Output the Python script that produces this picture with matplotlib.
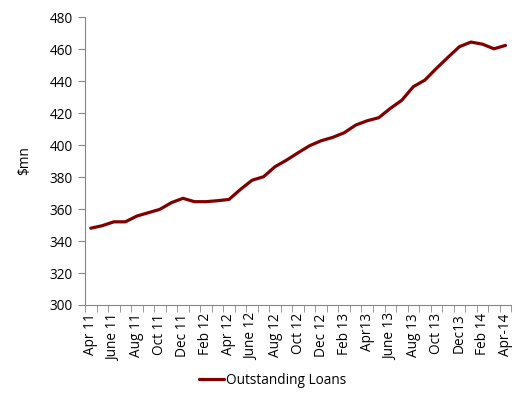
import numpy as np
import matplotlib.pyplot as plt

# monthly outstanding loans, Apr 2011 - Apr 2014
loans = [348, 349.6, 352, 352, 355.6, 357.7, 359.8, 364, 366.7, 364.6, 364.6, 365.2, 366,
         372.3, 378, 380.2, 386.5, 390.6, 395.2, 399.6, 402.7, 404.8, 407.7, 412.5, 415.2,
         417.1, 422.9, 428, 436.5, 440.6, 447.9, 454.8, 461.5, 464.4, 463.1, 460.2, 462.3]
tick_labels = ['Apr 11', 'June 11', 'Aug 11', 'Oct 11', 'Dec 11', 'Feb 12', 'Apr 12',
               'June 12', 'Aug 12', 'Oct 12', 'Dec 12', 'Feb 13', 'Apr13', 'June 13',
               'Aug 13', 'Oct 13', 'Dec13', 'Feb 14', 'Apr-14']
y_ticks = [300, 320, 340, 360, 380, 400, 420, 440, 460, 480]

plt.rcParams['font.family'] = ['Open Sans', 'DejaVu Sans']
grey = '#868686'

fig = plt.figure(figsize=(5.19, 3.98), dpi=100)
ax = fig.add_axes([0.1638, 0.2337, 0.8212, 0.7233])

x = np.arange(len(loans))
ax.plot(x, loans, color='#800000', linewidth=2.3, label='Outstanding Loans',
        solid_capstyle='round', solid_joinstyle='round')

ax.set_xlim(-0.5, len(loans) - 0.5)
ax.set_ylim(300, 480)
ax.set_yticks(y_ticks)
ax.set_xticks(x[::2])
ax.set_xticklabels(tick_labels, rotation=90)
ax.set_xticks(np.arange(-0.5, len(loans)), minor=True)

ax.tick_params(axis='x', which='major', length=0, pad=6, labelsize=9.8, colors='#000000')
ax.tick_params(axis='x', which='minor', length=5, color=grey, direction='out')
ax.tick_params(axis='y', length=5, color=grey, labelsize=9.8, pad=4)

for s in ['top', 'right']:
    ax.spines[s].set_visible(False)
for s in ['left', 'bottom']:
    ax.spines[s].set_color(grey)

ax.set_ylabel('$mn', fontsize=9.8, labelpad=12)

fig.legend(loc='lower center', bbox_to_anchor=(0.526, -0.005), frameon=False,
           fontsize=9.8, handlelength=1.8, handletextpad=0.2)

plt.savefig('out.png', dpi=100)
